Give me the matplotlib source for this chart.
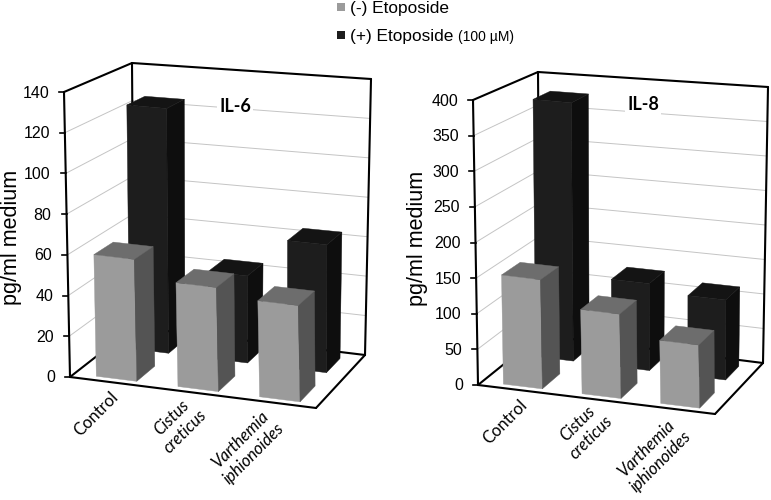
import matplotlib
matplotlib.use("Agg")
import matplotlib.pyplot as plt

categories = ["Control", "Cistus\ncreticus", "Varthemia\niphionoides"]
il6_minus = [60, 51, 47]
il6_plus = [125, 44, 64]
il8_minus = [154, 119, 89]
il8_plus = [378, 126, 115]
il6_ticks = [0, 20, 40, 60, 80, 100, 120, 140]
il8_ticks = [0, 50, 100, 150, 200, 250, 300, 350, 400]

SANS = "Liberation Sans"
CAL = "Lato"
GRAY = ("#9b9b9b", "#545454", "#6d6d6d")
DARK = ("#1d1d1d", "#0e0e0e", "#141414")
BAR_W = 0.165


def project(c, u, v, z):
    # trilinear interpolation between the 8 corners of the box
    x = y = 0
    for key, (px, py) in c.items():
        w = (u if key[0] == "r" else 1 - u)
        w *= (v if key[1] == "b" else 1 - v)
        w *= (z if key[2] == "t" else 1 - z)
        x += w * px
        y += w * py
    return x, y


def draw_bar(ax, c, u, v0, v1, z, cols, order):
    u0, u1 = u - BAR_W / 2, u + BAR_W / 2
    front = [(u0, v0, 0), (u1, v0, 0), (u1, v0, z), (u0, v0, z)]
    side = [(u1, v0, 0), (u1, v1, 0), (u1, v1, z), (u1, v0, z)]
    top = [(u0, v0, z), (u1, v0, z), (u1, v1, z), (u0, v1, z)]
    for face, col in zip((front, side, top), cols):
        pts = [project(c, *p) for p in face]
        ax.fill([p[0] for p in pts], [p[1] for p in pts], facecolor=col, edgecolor=col, lw=0.3, zorder=order)


def line(ax, c, a, b, **kw):
    pa, pb = project(c, *a), project(c, *b)
    ax.plot([pa[0], pb[0]], [pa[1], pb[1]], solid_capstyle="round", zorder=2, **kw)


def draw_panel(ax, c, minus, plus, ticks, title, title_xy, ylab_xy, offsets):
    zmax = ticks[-1]
    for t in ticks[1:-1]:
        z = t / zmax
        line(ax, c, (0, 0, z), (0, 1, z), color="#c4c4c4", lw=0.7)
        line(ax, c, (0, 1, z), (1, 1, z), color="#c4c4c4", lw=0.7)

    edge = dict(color="black", lw=1.5)
    line(ax, c, (0, 0, 0), (0, 0, 1), **edge)
    line(ax, c, (0, 0, 1), (0, 1, 1), **edge)
    line(ax, c, (0, 1, 1), (1, 1, 1), **edge)
    line(ax, c, (0, 1, 1), (0, 1, 0), **edge)
    line(ax, c, (1, 1, 1), (1, 1, 0), **edge)
    line(ax, c, (0, 0, 0), (1, 0, 0), **edge)
    line(ax, c, (1, 0, 0), (1, 1, 0), **edge)
    line(ax, c, (0, 0, 0), (0, 1, 0), **edge)
    line(ax, c, (0, 1, 0), (1, 1, 0), **edge)

    for t in ticks:
        x, y = project(c, 0, 0, t / zmax)
        ax.plot([x - 5, x], [y, y], color="black", lw=1.2, zorder=2)
        ax.text(x - 15, y + 1, str(t), ha="right", va="center", family=SANS, fontsize=11.5)

    for i, val in enumerate(plus):
        draw_bar(ax, c, (i + 0.5) / 3, 0.62, 0.89, val / zmax, DARK, 3)
    for i, val in enumerate(minus):
        draw_bar(ax, c, (i + 0.5) / 3 + 0.005, 0.07, 0.37, val / zmax, GRAY, 4)

    for i, name in enumerate(categories):
        x, y = project(c, (i + 0.5) / 3, 0, 0)
        ax.text(x + offsets[i][0], y + offsets[i][1], name, rotation=45, ha="center", va="center",
                rotation_mode="anchor", family=CAL, fontsize=12, linespacing=1.25,
                style="normal" if i == 0 else "italic", multialignment="center")

    ax.text(*title_xy, title, ha="center", va="center", family=CAL, fontsize=13, weight="bold", zorder=5,
            bbox=dict(facecolor="white", edgecolor="none", pad=1.5))
    ax.text(*ylab_xy, "pg/ml medium", rotation=90, ha="center", va="center", family=SANS, fontsize=15.5)


fig = plt.figure(figsize=(7.71, 5), dpi=100)
ax = fig.add_axes([0, 0, 1, 1])
ax.set_xlim(0, 771)
ax.set_ylim(500, 0)
ax.axis("off")

left = {"lft": (64, 92), "lfb": (70, 377), "rfb": (316, 408), "rft": (310, 120),
        "lbt": (132, 63), "lbb": (134, 327), "rbb": (365, 355), "rbt": (371, 79)}
right = {"lft": (473, 100), "lfb": (478, 385), "rfb": (715, 414), "rft": (710, 130),
         "lbt": (538, 72), "lbb": (540, 335), "rbb": (763, 363), "rbt": (768, 87)}

draw_panel(ax, left, il6_minus, il6_plus, il6_ticks, "IL-6", (235, 106), (12, 237),
           [(-15, 32), (-15, 32), (-28, 44)])
draw_panel(ax, right, il8_minus, il8_plus, il8_ticks, "IL-8", (643, 105), (417, 238),
           [(-12, 32), (-12, 31), (-22, 46)])

# legend
ax.fill([337, 345, 345, 337], [3, 3, 11, 11], color=GRAY[0], lw=0)
ax.fill([337, 345, 345, 337], [31, 31, 39, 39], color=DARK[0], lw=0)
ax.text(350, 8, "(-) Etoposide", ha="left", va="center", family=SANS, fontsize=12.4)
ax.text(350, 36, "(+) Etoposide", ha="left", va="center", family=SANS, fontsize=12.4)
ax.text(458, 37, "(100 µM)", ha="left", va="center", family=SANS, fontsize=10)

fig.savefig("out.png", dpi=100)
